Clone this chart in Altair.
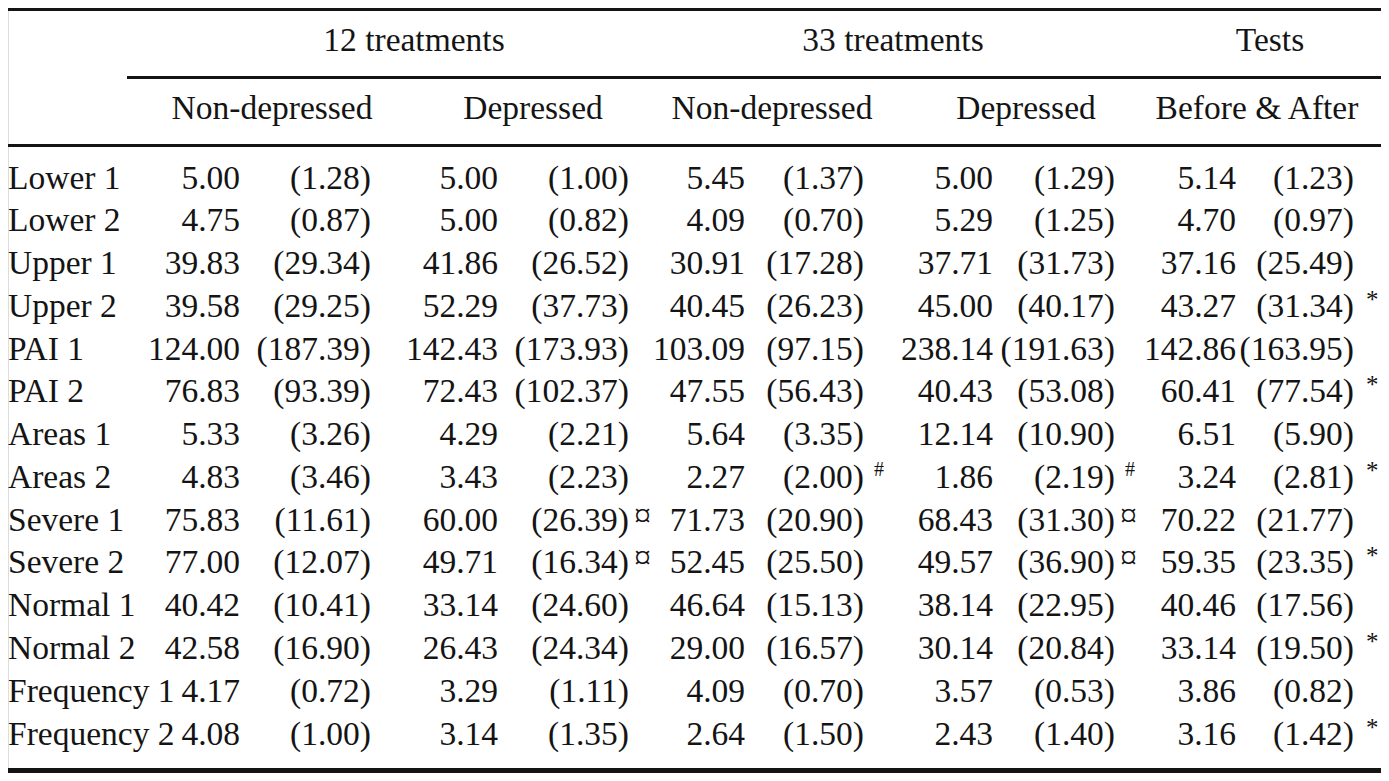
import altair as alt
import pandas as pd

# ---------------- data ----------------
row_labels = ["Lower 1", "Lower 2", "Upper 1", "Upper 2", "PAI 1", "PAI 2",
              "Areas 1", "Areas 2", "Severe 1", "Severe 2", "Normal 1", "Normal 2",
              "Frequency 1", "Frequency 2"]
group_headers = ["12 treatments", "33 treatments", "Tests"]
sub_headers = ["Non-depressed", "Depressed", "Non-depressed", "Depressed", "Before & After"]

means = [
    ["5.00", "5.00", "5.45", "5.00", "5.14"],
    ["4.75", "5.00", "4.09", "5.29", "4.70"],
    ["39.83", "41.86", "30.91", "37.71", "37.16"],
    ["39.58", "52.29", "40.45", "45.00", "43.27"],
    ["124.00", "142.43", "103.09", "238.14", "142.86"],
    ["76.83", "72.43", "47.55", "40.43", "60.41"],
    ["5.33", "4.29", "5.64", "12.14", "6.51"],
    ["4.83", "3.43", "2.27", "1.86", "3.24"],
    ["75.83", "60.00", "71.73", "68.43", "70.22"],
    ["77.00", "49.71", "52.45", "49.57", "59.35"],
    ["40.42", "33.14", "46.64", "38.14", "40.46"],
    ["42.58", "26.43", "29.00", "30.14", "33.14"],
    ["4.17", "3.29", "4.09", "3.57", "3.86"],
    ["4.08", "3.14", "2.64", "2.43", "3.16"],
]
sds = [
    ["1.28", "1.00", "1.37", "1.29", "1.23"],
    ["0.87", "0.82", "0.70", "1.25", "0.97"],
    ["29.34", "26.52", "17.28", "31.73", "25.49"],
    ["29.25", "37.73", "26.23", "40.17", "31.34"],
    ["187.39", "173.93", "97.15", "191.63", "163.95"],
    ["93.39", "102.37", "56.43", "53.08", "77.54"],
    ["3.26", "2.21", "3.35", "10.90", "5.90"],
    ["3.46", "2.23", "2.00", "2.19", "2.81"],
    ["11.61", "26.39", "20.90", "31.30", "21.77"],
    ["12.07", "16.34", "25.50", "36.90", "23.35"],
    ["10.41", "24.60", "15.13", "22.95", "17.56"],
    ["16.90", "24.34", "16.57", "20.84", "19.50"],
    ["0.72", "1.11", "0.70", "0.53", "0.82"],
    ["1.00", "1.35", "1.50", "1.40", "1.42"],
]
markers = [
    ["", "", "", "", ""],
    ["", "", "", "", ""],
    ["", "", "", "", ""],
    ["", "", "", "", "*"],
    ["", "", "", "", ""],
    ["", "", "", "", "*"],
    ["", "", "", "", ""],
    ["", "", "#", "#", "*"],
    ["", "¤", "", "¤", ""],
    ["", "¤", "", "¤", "*"],
    ["", "", "", "", ""],
    ["", "", "", "", "*"],
    ["", "", "", "", ""],
    ["", "", "", "", "*"],
]

# ---------------- layout (image pixel positions) ----------------
W, H = 1373, 765
X0, Y0 = 8, 8
label_x = 8
mean_right = [240, 498, 745, 993, 1236]
sd_right = [371, 629, 864, 1115, 1354]
group_center = [414, 893, 1270]
sub_center = [272, 533, 772, 1026, 1257]
group_base = 51
sub_base = 119
row_base0 = 188.5
row_step = 42.77
FONT = "Liberation Serif"
FS = 33.5
# marker styles: (gap after sd, baseline offset, font size)
mark_style = {"*": (12, -9, 25), "#": (10, -12, 20), "¤": (5, -4, 34)}

records = []
for i, lab in enumerate(row_labels):
    yb = row_base0 + i * row_step
    records.append(dict(x=label_x, y=yb, t=lab, kind="left", fs=FS))
    for g in range(5):
        records.append(dict(x=mean_right[g], y=yb, t=means[i][g], kind="right", fs=FS))
        records.append(dict(x=sd_right[g], y=yb, t="(" + sds[i][g] + ")", kind="right", fs=FS))
        m = markers[i][g]
        if m:
            gap, dy, fs = mark_style[m]
            records.append(dict(x=sd_right[g] + gap, y=yb + dy, t=m, kind="mark", fs=fs))
for g, t in enumerate(group_headers):
    records.append(dict(x=group_center[g], y=group_base, t=t, kind="center", fs=FS))
for g, t in enumerate(sub_headers):
    records.append(dict(x=sub_center[g], y=sub_base, t=t, kind="center", fs=FS))
df = pd.DataFrame(records)

rules = pd.DataFrame([
    dict(x=8, x2=1381, y=9.5, w=3.0),
    dict(x=127, x2=1381, y=77.5, w=3.0),
    dict(x=8, x2=1381, y=145.5, w=3.0),
    dict(x=8, x2=1381, y=770.5, w=5.0),
])

xs = alt.Scale(domain=[X0, X0 + W], nice=False, zero=False)
ys = alt.Scale(domain=[Y0, Y0 + H], nice=False, zero=False, reverse=True)

def txt(kind, align):
    return alt.Chart(df).transform_filter(alt.datum.kind == kind).mark_text(
        font=FONT, align=align, baseline="alphabetic", color="#141414"
    ).encode(
        x=alt.X("x:Q", scale=xs, axis=None),
        y=alt.Y("y:Q", scale=ys, axis=None),
        text="t:N",
        size=alt.Size("fs:Q", scale=None, legend=None),
    )

rule_layer = alt.Chart(rules).mark_rule(color="#141414").encode(
    x=alt.X("x:Q", scale=xs, axis=None),
    x2="x2:Q",
    y=alt.Y("y:Q", scale=ys, axis=None),
    strokeWidth=alt.StrokeWidth("w:Q", scale=None, legend=None),
)

chart = alt.layer(
    rule_layer,
    txt("left", "left"),
    txt("right", "right"),
    txt("center", "center"),
    txt("mark", "left"),
).properties(
    width=W, height=H,
    autosize=alt.AutoSizeParams(type="none"),
    padding=0,
).configure_view(stroke=None).configure(background="white")

chart.save("out.html", embed_options={"renderer": "svg", "actions": False})
